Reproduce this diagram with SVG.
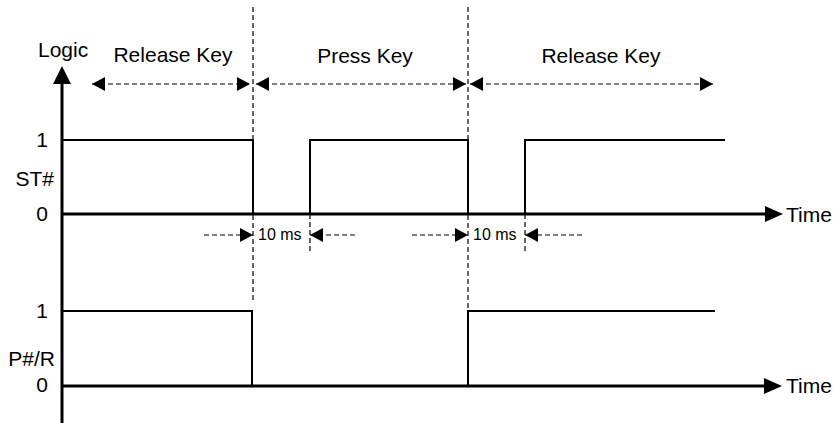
<svg xmlns="http://www.w3.org/2000/svg" width="833" height="423" viewBox="0 0 833 423">
<defs>
<style>
text{font-family:"Liberation Sans",Arial,sans-serif;fill:#000}
.lbl{font-size:21px}
.sm{font-size:16px}
.axis{stroke:#000;stroke-width:3;fill:none}
.sig{stroke:#000;stroke-width:2;fill:none}
.dash{stroke:#000;stroke-width:1.2;stroke-dasharray:5 3;fill:none}
.dasharrow{stroke:#000;stroke-width:1.2;stroke-dasharray:5 3;fill:none;marker-end:url(#sa)}
.dasharrow2{stroke:#000;stroke-width:1.2;stroke-dasharray:5 3;fill:none;marker-end:url(#sa);marker-start:url(#sas)}
</style>
<marker id="sa" markerWidth="13" markerHeight="14" refX="13" refY="7" orient="auto" markerUnits="userSpaceOnUse"><path d="M0,0 L13,7 L0,14 Z" fill="#000"/></marker>
<marker id="sas" markerWidth="13" markerHeight="14" refX="0" refY="7" orient="auto" markerUnits="userSpaceOnUse"><path d="M13,0 L0,7 L13,14 Z" fill="#000"/></marker>
</defs>
<rect width="833" height="423" fill="#fff"/>
<g id="axes">
<line class="axis" x1="62" y1="80" x2="62" y2="423"/>
<path d="M62,66 L53,84 L71,84 Z" fill="#000"/>
<line class="axis" x1="62" y1="214" x2="766" y2="214"/>
<path d="M783,214 L765,206 L765,222 Z" fill="#000"/>
<line class="axis" x1="62" y1="386" x2="765" y2="386"/>
<path d="M782,386 L764,378 L764,394 Z" fill="#000"/>
</g>
<g id="labels">
<text class="lbl" x="38" y="57">Logic</text>
<text class="lbl" x="48" y="147" text-anchor="end">1</text>
<text class="lbl" x="54" y="186" text-anchor="end">ST#</text>
<text class="lbl" x="48" y="221" text-anchor="end">0</text>
<text class="lbl" x="48" y="318" text-anchor="end">1</text>
<text class="lbl" x="55" y="366" text-anchor="end">P#/R</text>
<text class="lbl" x="48" y="392" text-anchor="end">0</text>
<text class="lbl" x="786" y="222">Time</text>
<text class="lbl" x="786" y="393">Time</text>
<text class="lbl" x="173" y="62" text-anchor="middle">Release Key</text>
<text class="lbl" x="365" y="63" text-anchor="middle">Press Key</text>
<text class="lbl" x="601" y="63" text-anchor="middle">Release Key</text>
<text class="sm" x="258" y="240">10 ms</text>
<text class="sm" x="473" y="240">10 ms</text>
</g>
<g id="signals">
<polyline class="sig" points="62,140 253,140 253,214"/>
<polyline class="sig" points="310,214 310,140 468,140 468,214"/>
<polyline class="sig" points="525,214 525,140 725,140"/>
<polyline class="sig" points="62,311 252,311 252,386"/>
<polyline class="sig" points="468,386 468,311 715,311"/>
</g>
<g id="connectors">
<line class="dash" x1="253" y1="7" x2="253" y2="302"/>
<line class="dash" x1="468" y1="7" x2="468" y2="311"/>
<line class="dash" x1="310" y1="214" x2="310" y2="251"/>
<line class="dash" x1="525" y1="214" x2="525" y2="251"/>
<line class="dasharrow2" x1="92" y1="84" x2="250" y2="84"/>
<line class="dasharrow2" x1="256" y1="84" x2="466" y2="84"/>
<line class="dasharrow2" x1="470" y1="84" x2="713" y2="84"/>
<line class="dasharrow" x1="204" y1="235" x2="253" y2="235"/>
<line class="dasharrow" x1="355" y1="235" x2="310" y2="235"/>
<line class="dasharrow" x1="412" y1="235" x2="468" y2="235"/>
<line class="dasharrow" x1="582" y1="235" x2="525" y2="235"/>
</g>
</svg>
